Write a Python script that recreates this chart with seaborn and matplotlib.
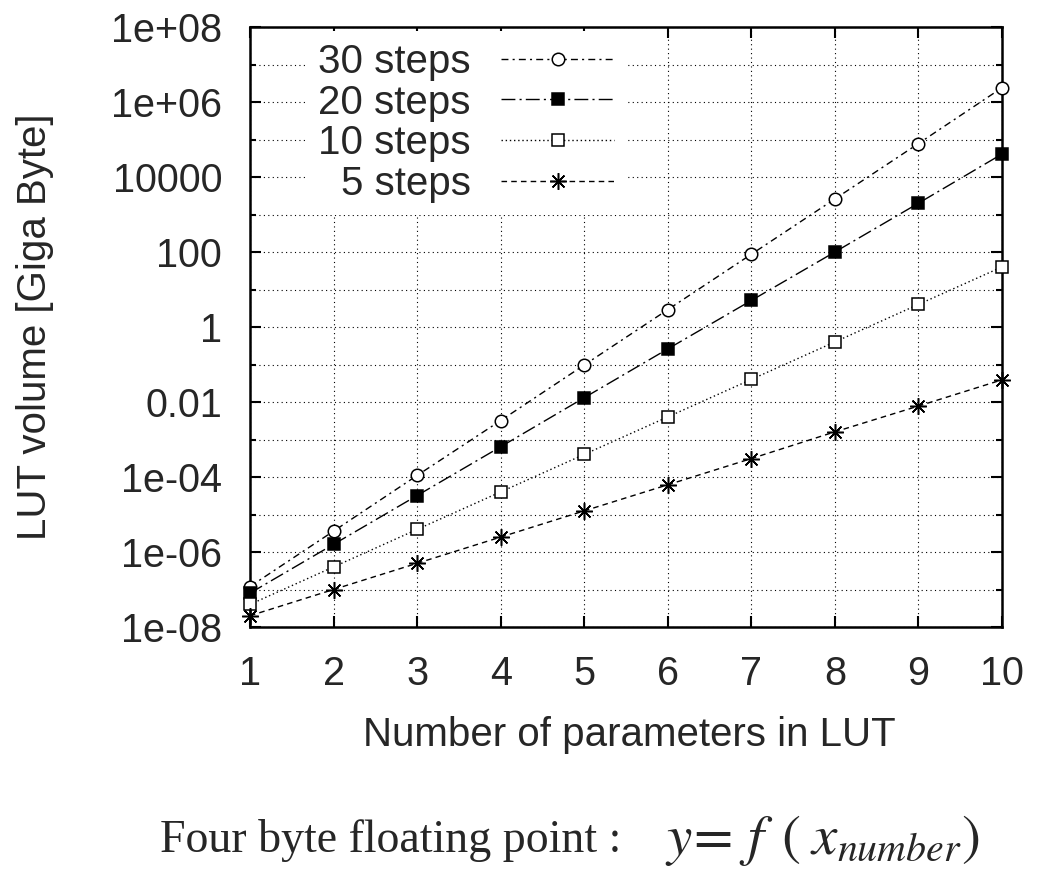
#!/usr/bin/env python3
import numpy as np
import pandas as pd
import matplotlib
matplotlib.use("Agg")
import matplotlib.pyplot as plt
import matplotlib.ticker as mticker
import seaborn as sns

# values (LUT volume in GB)
params = [1, 2, 3, 4, 5, 6, 7, 8, 9, 10]
vol_30 = [1.2e-7, 3.6e-6, 1.1e-4, 3.2e-3, 9.7e-2, 2.9, 87, 2.6e3, 7.8e4, 2.4e6]
vol_20 = [8e-8, 1.6e-6, 3.2e-5, 6.4e-4, 1.3e-2, 0.26, 5.1, 100, 2.0e3, 4.1e4]
vol_10 = [4e-8, 4e-7, 4e-6, 4e-5, 4e-4, 4e-3, 0.04, 0.4, 4, 40]
vol_5 = [2e-8, 1e-7, 5e-7, 2.5e-6, 1.25e-5, 6.2e-5, 3.1e-4, 1.6e-3, 7.8e-3, 3.9e-2]
series_labels = ["30 steps", "20 steps", "10 steps", "5 steps"]

ytick_vals = [1e-8, 1e-6, 1e-4, 1e-2, 1, 1e2, 1e4, 1e6, 1e8]
ytick_labels = ["1e-08", "1e-06", "1e-04", "0.01", "1", "100", "10000", "1e+06", "1e+08"]
yminor_vals = [1e-7, 1e-5, 1e-3, 1e-1, 1e1, 1e3, 1e5, 1e7]

sns.set_style("ticks")
plt.rcParams['font.family'] = ['Liberation Sans', 'DejaVu Sans']

fig = plt.figure(figsize=(10.61, 8.85), dpi=100)
ax = fig.add_axes([250 / 1061, 1 - 627 / 885, 752 / 1061, 600 / 885])

styles = [
    dict(marker='o', mfc='white', ms=9, ls=(0, (5, 3, 1.5, 3))),
    dict(marker='s', mfc='black', ms=9, ls=(0, (10, 3, 1.5, 3))),
    dict(marker='s', mfc='white', ms=9, ls=(0, (1, 2))),
    dict(marker=(8, 2, 0), mfc='black', ms=12, ls=(0, (4, 3))),
]
for vals, lab, st in zip([vol_30, vol_20, vol_10, vol_5], series_labels, styles):
    sns.lineplot(x=params, y=vals, ax=ax, color='black', lw=1.0,
                 linestyle=st['ls'], marker=st['marker'], markersize=st['ms'],
                 markerfacecolor=st['mfc'], markeredgecolor='black',
                 markeredgewidth=1.1, label=lab, clip_on=False, zorder=3)

ax.set_yscale('log')
ax.set_xlim(1, 10)
ax.set_ylim(1e-8, 1e8)
ax.set_xticks(params)
ax.yaxis.set_major_locator(mticker.FixedLocator(ytick_vals))
ax.yaxis.set_major_formatter(mticker.FixedFormatter(ytick_labels))
ax.yaxis.set_minor_locator(mticker.FixedLocator(yminor_vals))
ax.yaxis.set_minor_formatter(mticker.NullFormatter())

ax.tick_params(which='both', direction='in', top=True, right=True,
               labelsize=28.5, pad=20, width=1.5, color='black')
ax.tick_params(which='major', length=8)
ax.tick_params(which='minor', length=4)
for sp in ax.spines.values():
    sp.set_linewidth(1.8)
    sp.set_color('black')

ax.grid(True, which='both', axis='y', color='black', lw=0.8, ls=(0, (1, 3)))
ax.grid(True, which='major', axis='x', color='black', lw=0.8, ls=(0, (1, 3)))
ax.set_axisbelow(True)

ax.set_xlabel("Number of parameters in LUT", fontsize=29, va='center', ha='center')
ax.set_ylabel("LUT volume [Giga Byte]", fontsize=29, va='center', ha='center')
ax.xaxis.set_label_coords(0.505, -0.18)
ax.yaxis.set_label_coords(-0.286, 0.5)

leg = ax.legend(loc='upper right', bbox_to_anchor=(0.50, 0.994), markerfirst=False,
                fontsize=29, handlelength=2.8, handletextpad=0.75,
                labelspacing=0.07, borderpad=0.3, borderaxespad=0,
                frameon=True, fancybox=False, edgecolor='none',
                facecolor='white', framealpha=1.0)

fig.text(160 / 1061, 1 - 841 / 885, "Four byte floating point :",
         family='Liberation Serif', fontsize=33, ha='left', va='center')
fig.text(665 / 1061, 1 - 841 / 885, r"$y\!=\,f\;\,(\;x_{number})$",
         math_fontfamily='stix', fontsize=41, ha='left', va='center')

fig.savefig("out.png", dpi=100)
